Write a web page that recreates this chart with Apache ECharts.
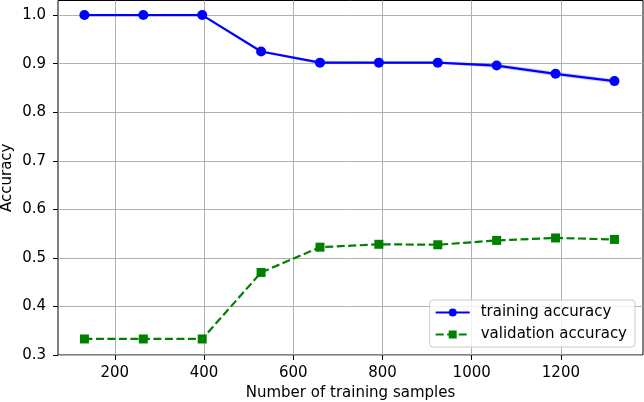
<!DOCTYPE html>
<html>
<head>
<meta charset="utf-8">
<script src="https://cdn.jsdelivr.net/npm/echarts@6/dist/echarts.min.js"></script>
<style>
  html, body { margin: 0; padding: 0; background: #fff; }
  #chart { width: 644px; height: 402px; }
</style>
</head>
<body>
<div id="chart"></div>
<script>
// training set sizes
const trainSizes = [132, 264, 396, 528, 660, 792, 924, 1056, 1188, 1320]
const trainAcc = [1.0, 1.0, 1.0, 0.925, 0.902, 0.902, 0.902, 0.896, 0.879, 0.864]
const trainStd = [0, 0, 0, 0.002, 0.003, 0.002, 0.002, 0.004, 0.004, 0.004]
const validAcc = [0.333, 0.333, 0.333, 0.470, 0.522, 0.528, 0.527, 0.536, 0.541, 0.538]
const xTicks = [200, 400, 600, 800, 1000, 1200]
const yTicks = [0.3, 0.4, 0.5, 0.6, 0.7, 0.8, 0.9, 1.0]

const font = 'DejaVu Sans'
const pairs = (ys) => trainSizes.map((x, i) => [x, ys[i]])

// segments of the std band: [x0, lo0, hi0, x1, lo1, hi1]
const bandData = []
for (let i = 0; i < trainSizes.length - 1; i++) {
  bandData.push([
    trainSizes[i], trainAcc[i] - trainStd[i], trainAcc[i] + trainStd[i],
    trainSizes[i + 1], trainAcc[i + 1] - trainStd[i + 1], trainAcc[i + 1] + trainStd[i + 1]
  ])
}

function renderBand (params, api) {
  const a = api.coord([api.value(0), api.value(2)])
  const b = api.coord([api.value(3), api.value(5)])
  const c = api.coord([api.value(3), api.value(4)])
  const d = api.coord([api.value(0), api.value(1)])
  return {
    type: 'polygon',
    shape: { points: [a, b, c, d] },
    style: { fill: 'rgba(0,0,255,0.15)', stroke: 'rgba(0,0,255,0.15)', lineWidth: 0.5 }
  }
}

const chart = echarts.init(document.getElementById('chart'))
chart.setOption({
  animation: false,
  textStyle: { fontFamily: font },
  grid: {
    left: 58, right: 1, top: 0.5, bottom: 47,
    containLabel: false,
    outerBoundsMode: 'none',
    show: true, borderColor: '#000', borderWidth: 1
  },
  xAxis: {
    type: 'value',
    min: 72.8,
    max: 1384,
    name: 'Number of training samples',
    nameLocation: 'middle',
    nameGap: 31,
    nameMoveOverlap: false,
    nameTextStyle: { fontSize: 15, color: '#000', fontFamily: font },
    axisLine: { show: false },
    axisTick: { show: true, length: 5, lineStyle: { color: '#000' }, customValues: xTicks },
    axisLabel: {
      fontSize: 15, color: '#000', margin: 11, customValues: xTicks,
      formatter: v => String(v)
    },
    splitLine: { show: true, lineStyle: { color: '#b0b0b0', width: 1 } }
  },
  yAxis: {
    type: 'value',
    min: 0.3,
    max: 1.03,
    name: 'Accuracy',
    nameLocation: 'middle',
    nameGap: 43,
    nameMoveOverlap: false,
    nameTextStyle: { fontSize: 15, color: '#000', fontFamily: font },
    axisLine: { show: false },
    axisTick: { show: true, length: 5, lineStyle: { color: '#000' }, customValues: yTicks },
    axisLabel: {
      fontSize: 15, color: '#000', margin: 12, customValues: yTicks,
      formatter: v => v.toFixed(1)
    },
    splitLine: { show: true, lineStyle: { color: '#b0b0b0', width: 1 } }
  },
  legend: {
    orient: 'vertical',
    right: 9,
    bottom: 55,
    data: ['training accuracy', 'validation accuracy'],
    itemWidth: 34,
    itemHeight: 10,
    itemGap: 7,
    padding: [5, 8, 5, 5],
    backgroundColor: 'rgba(255,255,255,0.8)',
    borderColor: '#cccccc',
    borderWidth: 1,
    borderRadius: 3,
    textStyle: { fontSize: 15, color: '#000', fontFamily: font, padding: [0, 0, 0, 6] }
  },
  series: [
    {
      name: 'band',
      type: 'custom',
      data: bandData,
      renderItem: renderBand,
      encode: { x: [0, 3], y: [1, 2, 4, 5] },
      silent: true,
      z: 1
    },
    {
      name: 'training accuracy',
      type: 'line',
      data: pairs(trainAcc),
      color: '#0000ff',
      symbol: 'circle',
      symbolSize: 10,
      lineStyle: { width: 2.2, color: '#0000ff' },
      itemStyle: { color: '#0000ff' },
      z: 3
    },
    {
      name: 'validation accuracy',
      type: 'line',
      data: pairs(validAcc),
      color: '#008000',
      symbol: 'rect',
      symbolSize: 9,
      lineStyle: { width: 2.2, color: '#008000', type: [8, 3.5] },
      itemStyle: { color: '#008000' },
      z: 3
    }
  ]
})
</script>
</body>
</html>
